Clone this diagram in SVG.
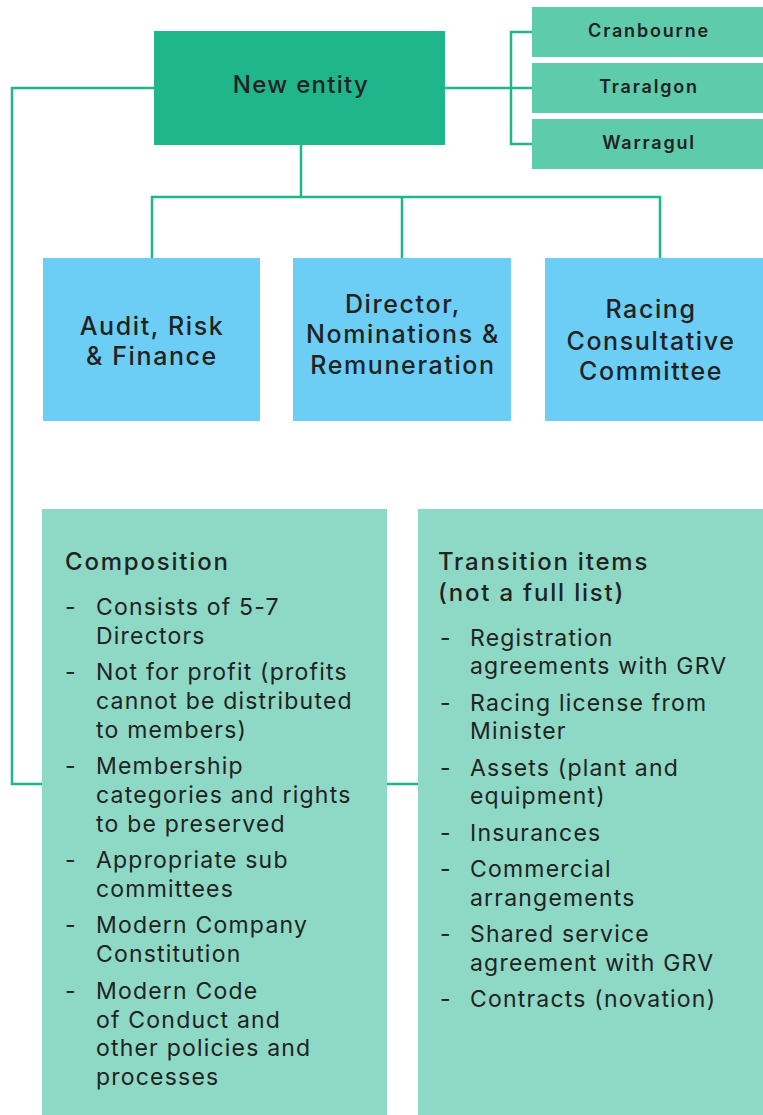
<svg xmlns="http://www.w3.org/2000/svg" width="763" height="1115" viewBox="0 0 763 1115">
<style>
text{font-family:Inter,"Open Sans","Liberation Sans",sans-serif;fill:#222}
.conn{fill:none;stroke:#1fb68a;stroke-width:2.5}
.main{fill:#20b68c}
.site{fill:#5ecbab}
.com{fill:#6ccef5}
.panel{fill:#8ed9c5}
.t-main{font-size:24px;font-weight:500;text-anchor:middle;letter-spacing:1.3px}
.t-site{font-size:18px;font-weight:600;text-anchor:middle;letter-spacing:1.8px}
.t-com{font-size:25px;font-weight:500;text-anchor:middle;letter-spacing:1.6px}
.t-head{font-size:24px;font-weight:500;letter-spacing:1.8px}
.t-li{font-size:23px;letter-spacing:1.2px}
</style>
<rect width="763" height="1115" fill="#fff"/>
<g id="connectors">
<path class="conn" d="M154,88 H12 V784 H42"/>
<path class="conn" d="M387,784 H418"/>
<path class="conn" d="M445,88 H533 M533,32 H511 V144 H533"/>
<path class="conn" d="M301,145 V197 M152,258 V197 H660 V258 M402,197 V258"/>
</g>
<g id="new-entity"><rect class="main" x="154" y="31" width="291" height="114"/><text class="t-main" x="301" y="93">New entity</text></g>
<g id="cranbourne"><rect class="site" x="532" y="7" width="231" height="50"/><text class="t-site" x="649" y="37">Cranbourne</text></g>
<g id="traralgon"><rect class="site" x="532" y="63" width="231" height="50"/><text class="t-site" x="649" y="93">Traralgon</text></g>
<g id="warragul"><rect class="site" x="532" y="119" width="231" height="50"/><text class="t-site" x="649" y="149">Warragul</text></g>
<g id="audit"><rect class="com" x="43" y="258" width="217" height="163"/><text class="t-com" x="152" y="335">Audit, Risk</text><text class="t-com" x="152" y="365">&amp; Finance</text></g>
<g id="director"><rect class="com" x="293" y="258" width="218" height="163"/><text class="t-com" x="403" y="313">Director,</text><text class="t-com" x="403" y="343">Nominations &amp;</text><text class="t-com" x="403" y="374">Remuneration</text></g>
<g id="racing"><rect class="com" x="545" y="258" width="218" height="163"/><text class="t-com" x="651" y="318">Racing</text><text class="t-com" x="651" y="350">Consultative</text><text class="t-com" x="651" y="380">Committee</text></g>
<g id="composition"><rect class="panel" x="42" y="509" width="345" height="606"/>
<text class="t-head" x="65" y="570">Composition</text>
<text class="t-li" x="65" y="615">-</text><text class="t-li" x="96" y="615">Consists of 5-7</text><text class="t-li" x="96" y="644">Directors</text>
<text class="t-li" x="65" y="680">-</text><text class="t-li" x="96" y="680">Not for profit (profits</text><text class="t-li" x="96" y="709">cannot be distributed</text><text class="t-li" x="96" y="738">to members)</text>
<text class="t-li" x="65" y="774">-</text><text class="t-li" x="96" y="774">Membership</text><text class="t-li" x="96" y="803">categories and rights</text><text class="t-li" x="96" y="832">to be preserved</text>
<text class="t-li" x="65" y="868">-</text><text class="t-li" x="96" y="868">Appropriate sub</text><text class="t-li" x="96" y="897">committees</text>
<text class="t-li" x="65" y="933">-</text><text class="t-li" x="96" y="933">Modern Company</text><text class="t-li" x="96" y="962">Constitution</text>
<text class="t-li" x="65" y="999">-</text><text class="t-li" x="96" y="999">Modern Code</text><text class="t-li" x="96" y="1028">of Conduct and</text><text class="t-li" x="96" y="1056">other policies and</text><text class="t-li" x="96" y="1085">processes</text>
</g>
<g id="transition"><rect class="panel" x="418" y="509" width="345" height="606"/>
<text class="t-head" x="438" y="570">Transition items</text><text class="t-head" x="438" y="601">(not a full list)</text>
<text class="t-li" x="440" y="646">-</text><text class="t-li" x="470" y="646">Registration</text><text class="t-li" x="470" y="674">agreements with GRV</text>
<text class="t-li" x="440" y="711">-</text><text class="t-li" x="470" y="711">Racing license from</text><text class="t-li" x="470" y="739">Minister</text>
<text class="t-li" x="440" y="776">-</text><text class="t-li" x="470" y="776">Assets (plant and</text><text class="t-li" x="470" y="804">equipment)</text>
<text class="t-li" x="440" y="841">-</text><text class="t-li" x="470" y="841">Insurances</text>
<text class="t-li" x="440" y="877">-</text><text class="t-li" x="470" y="877">Commercial</text><text class="t-li" x="470" y="906">arrangements</text>
<text class="t-li" x="440" y="942">-</text><text class="t-li" x="470" y="942">Shared service</text><text class="t-li" x="470" y="971">agreement with GRV</text>
<text class="t-li" x="440" y="1007">-</text><text class="t-li" x="470" y="1007">Contracts (novation)</text>
</g>
</svg>
